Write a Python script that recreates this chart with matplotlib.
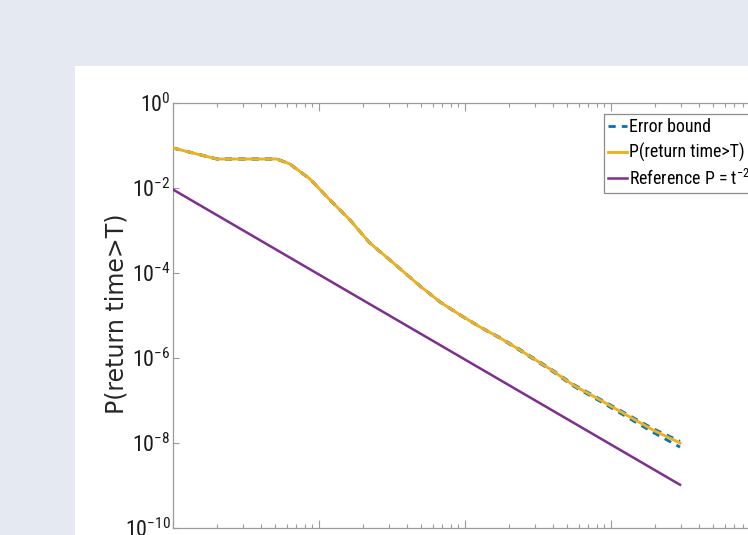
import os
import matplotlib
matplotlib.use("Agg")
import matplotlib.pyplot as plt
from matplotlib.patches import Rectangle
from matplotlib.ticker import LogLocator, LogFormatterSciNotation, NullFormatter
from matplotlib import font_manager
from matplotlib.font_manager import FontProperties

# ---------------- data ----------------
t_vals = [1, 2, 3.37, 5.15, 6.32, 8.67, 11.9, 16.3, 22.3, 30.6, 49.2, 67.5,
          92.5, 127, 174, 238, 382, 550, 841, 1350, 1940, 2970]
p_vals = [0.0873, 0.0481, 0.0481, 0.0481, 0.0367, 0.0163, 0.00522, 0.00177,
          5.08e-4, 2.02e-4, 4.94e-5, 2.08e-5, 1.03e-5, 5.36e-6, 2.96e-6,
          1.54e-6, 5.51e-7, 2.32e-7, 1.03e-7, 4.09e-8, 2.02e-8, 1.0e-8]
err_upper = [0.0880, 0.0485, 0.0485, 0.0485, 0.0370, 0.0164, 0.00526, 0.00178,
             5.11e-4, 2.03e-4, 4.97e-5, 2.10e-5, 1.04e-5, 5.42e-6, 3.02e-6,
             1.59e-6, 5.70e-7, 2.42e-7, 1.08e-7, 4.35e-8, 2.18e-8, 1.10e-8]
err_lower = [0.0866, 0.0477, 0.0477, 0.0477, 0.0364, 0.0162, 0.00518, 0.00176,
             5.05e-4, 2.01e-4, 4.91e-5, 2.06e-5, 1.02e-5, 5.30e-6, 2.90e-6,
             1.49e-6, 5.30e-7, 2.20e-7, 9.60e-8, 3.70e-8, 1.78e-8, 8.0e-9]
ref_t = [1, 2970]
ref_p = [0.0092, 1.04e-9]

labels = ["Error bound", "P(return time>T)", r"Reference P = $\mathdefault{t^{-2}}$"]
ylabel = "P(return time>T)"


# ---------------- fonts ----------------
def _is_regular(f):
    return f.style == "normal" and f.weight in (400, "normal", "regular", "book")


def find_condensed():
    entries = font_manager.fontManager.ttflist
    prefs = ["Liberation Sans Narrow", "Arial Narrow", "Nimbus Sans Narrow",
             "Roboto Condensed", "Open Sans Condensed", "Noto Sans Condensed"]
    for p in prefs:
        for f in entries:
            if f.name == p and _is_regular(f):
                return f.fname
    for key in ("LiberationSansNarrow-Regular", "RobotoCondensed-Regular",
                "NotoSans-Condensed.", "OpenSans_Condensed-Regular",
                "OpenSans-CondensedRegular", "DejaVuSansCondensed."):
        for f in entries:
            if key in os.path.basename(f.fname):
                return f.fname
    for f in entries:
        if f.stretch in ("condensed", "semi-condensed") and _is_regular(f) \
                and "sans" in f.name.lower() and "mono" not in f.name.lower():
            return f.fname
    return None


cpath = find_condensed()
plt.rcParams["axes.unicode_minus"] = False
plt.rcParams["font.family"] = ["Liberation Sans", "DejaVu Sans"]
if cpath:
    fp_tick = FontProperties(fname=cpath, size=15.8)
    fp_leg = FontProperties(fname=cpath, size=12.9)
else:
    fp_tick = FontProperties(family="Liberation Sans", size=14)
    fp_leg = FontProperties(family="Liberation Sans", size=11.2)

W, H = 748, 535
fig = plt.figure(figsize=(W / 100, H / 100), dpi=100)
fig.patch.set_facecolor("#e5e9f1")
fig.patches.append(Rectangle((75 / W, 0), 1 - 75 / W, (H - 66) / H,
                             transform=fig.transFigure, facecolor="white",
                             edgecolor="none", zorder=-10))

ax = fig.add_axes([173 / W, 7 / H, 584 / W, 425 / H])
ax.set_facecolor("white")
ax.set_xscale("log")
ax.set_yscale("log")

blue, orange, purple = "#0072BD", "#EDB120", "#7E2F8E"
l1, = ax.plot(t_vals, err_upper, color=blue, lw=2.0, dashes=(2.6, 2.2), zorder=2)
ax.plot(t_vals, err_lower, color=blue, lw=2.0, dashes=(2.6, 2.2), zorder=2)
l2, = ax.plot(t_vals, p_vals, color=orange, lw=2.1, zorder=3)
l3, = ax.plot(ref_t, ref_p, color=purple, lw=1.8, zorder=3)

ax.set_xlim(1, 1e4)
ax.set_ylim(1e-10, 1)

ax.yaxis.set_major_locator(LogLocator(base=100, numticks=20))
ax.yaxis.set_major_formatter(LogFormatterSciNotation(base=10))
ax.yaxis.set_minor_locator(matplotlib.ticker.NullLocator())
ax.xaxis.set_major_locator(LogLocator(base=10, numticks=20))
ax.xaxis.set_minor_locator(LogLocator(base=10, subs=range(2, 10), numticks=20))
ax.xaxis.set_minor_formatter(NullFormatter())

axcol = "#9a9a9a"
for s in ax.spines.values():
    s.set_color(axcol)
    s.set_linewidth(0.9)
ax.tick_params(which="both", direction="in", top=True, right=True,
               color=axcol, labelcolor="#1a1a1a", width=0.8)
ax.tick_params(axis="x", which="major", length=6, pad=30)
ax.tick_params(axis="x", which="minor", length=3)
ax.tick_params(axis="y", which="major", length=4.5, pad=1.8)

fig.canvas.draw()
for lbl in ax.get_yticklabels() + ax.get_xticklabels():
    lbl.set_fontproperties(fp_tick)

fig.text(117 / W, 1 - 314 / H, ylabel, rotation=90, ha="center", va="center",
         fontsize=17, family="DejaVu Sans", color="#262626")

leg = ax.legend([l1, l2, l3], labels, loc="upper left",
                bbox_to_anchor=(604 / W, 1 - 114 / H), bbox_transform=fig.transFigure,
                borderaxespad=0, borderpad=0.25, labelspacing=0.36,
                handlelength=1.05, handletextpad=0.12, prop=fp_leg,
                fancybox=False, framealpha=1, edgecolor="#8c8c8c")
leg.get_frame().set_linewidth(0.9)

fig.savefig("out.png", dpi=100, facecolor=fig.get_facecolor())
